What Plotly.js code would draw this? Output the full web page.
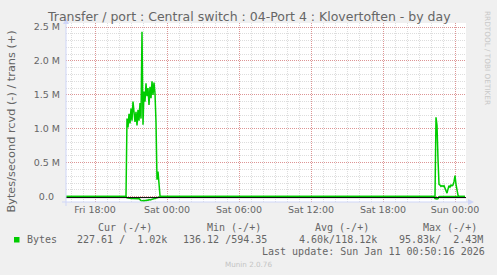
<!DOCTYPE html>
<html>
<head>
<meta charset="utf-8">
<script src="https://cdn.plot.ly/plotly-3.0.1.min.js"></script>
<style>
html,body{margin:0;padding:0;background:#F0F0F0;}
#chart{width:497px;height:275px;}
</style>
</head>
<body>
<div id="chart"></div>
<script>
// ---- data (bytes/second, 5-minute samples) ----
const times = [
  '2026-01-09 15:35','2026-01-09 17:00','2026-01-09 19:00','2026-01-09 20:35',
  '2026-01-09 20:40','2026-01-09 20:45','2026-01-09 20:50','2026-01-09 20:55',
  '2026-01-09 21:00','2026-01-09 21:05','2026-01-09 21:10','2026-01-09 21:15',
  '2026-01-09 21:20','2026-01-09 21:25','2026-01-09 21:30','2026-01-09 21:35',
  '2026-01-09 21:40','2026-01-09 21:45','2026-01-09 21:50','2026-01-09 21:55',
  '2026-01-09 22:00','2026-01-09 22:05','2026-01-09 22:10','2026-01-09 22:15',
  '2026-01-09 22:20','2026-01-09 22:25','2026-01-09 22:30','2026-01-09 22:35',
  '2026-01-09 22:40','2026-01-09 22:45','2026-01-09 22:50','2026-01-09 22:55',
  '2026-01-09 23:00','2026-01-09 23:05','2026-01-09 23:10','2026-01-09 23:15',
  '2026-01-09 23:20','2026-01-09 23:25','2026-01-09 23:30',
  '2026-01-10 03:00','2026-01-10 09:00','2026-01-10 15:00','2026-01-10 22:15',
  '2026-01-10 22:20','2026-01-10 22:25','2026-01-10 22:30','2026-01-10 22:35',
  '2026-01-10 22:40','2026-01-10 22:45','2026-01-10 22:50','2026-01-10 22:55',
  '2026-01-10 23:00','2026-01-10 23:05','2026-01-10 23:10','2026-01-10 23:15',
  '2026-01-10 23:20','2026-01-10 23:25','2026-01-10 23:30','2026-01-10 23:35',
  '2026-01-10 23:40','2026-01-10 23:45','2026-01-10 23:50','2026-01-10 23:55',
  '2026-01-11 00:00','2026-01-11 00:05','2026-01-11 00:10','2026-01-11 00:15',
  '2026-01-11 00:20','2026-01-11 00:50'
];
const transBytes = [
  950,1050,980,1000,
  1150000,1020000,1220000,1080000,
  1300000,1120000,1400000,1180000,
  1100000,1250000,1050000,1280000,
  1120000,1380000,1150000,2430000,
  1060000,1550000,1400000,1670000,
  1480000,1600000,1350000,1620000,
  1450000,1700000,1500000,1680000,
  1520000,1100000,250000,370000,
  120000,10000,1000,
  1100,950,1050,1000,
  1000,1170000,1050000,550000,
  180000,170000,150000,160000,
  150000,160000,120000,90000,
  50000,110000,160000,140000,
  170000,160000,170000,220000,
  310000,180000,100000,20000,
  1000,1020
];
const rcvdBytes = [
  200,190,210,200,
  20000,25000,28000,25000,
  30000,28000,30000,27000,
  30000,28000,30000,32000,
  30000,50000,60000,65000,
  60000,68000,55000,62000,
  50000,55000,45000,50000,
  45000,40000,45000,40000,
  35000,30000,25000,20000,
  5000,300,200,
  180,220,200,200,
  30000,35000,35000,30000,
  2000,300,250,250,
  250,250,250,250,
  250,250,250,250,
  250,250,250,250,
  250,250,250,250,
  250,228
];
const xTickVals = ['2026-01-09 18:00','2026-01-10 00:00','2026-01-10 06:00','2026-01-10 12:00','2026-01-10 18:00','2026-01-11 00:00'];
const xTickText = ['Fri 18:00','Sat 00:00','Sat 06:00','Sat 12:00','Sat 18:00','Sun 00:00'];
const yTickVals = [0,500000,1000000,1500000,2000000,2500000];
const yTickText = ['0.0\u00a0\u00a0','0.5 M','1.0 M','1.5 M','2.0 M','2.5 M'];
const seriesName = 'Bytes';
const statHeaders = ['Cur (-/+)','Min (-/+)','Avg (-/+)','Max (-/+)'];
const statValues = ['227.61 /  1.02k','136.12 /594.35','4.60k/118.12k','95.83k/  2.43M'];
const lastUpdate = 'Last update: Sun Jan 11 00:50:16 2026';
const titleText = 'Transfer / port : Central switch : 04-Port 4 : Klovertoften - by day';
const yTitle = 'Bytes/second rcvd (-) / trans (+)';

// ---- layout geometry ----
const W = 497, H = 275;
const L = 66, R = 466, T = 23, B = 202;
const px = x => (x - L) / (R - L);
const py = y => (B - y) / (B - T);
const nb = s => s.replace(/ /g, '\u00a0');
const GREEN = '#00CC00';
const FONT = '#666666';
const AXISC = '#CFD6F8';

const traces = [
  {x: times, y: rcvdBytes.map(v => -v), type: 'scatter', mode: 'lines',
   line: {color: GREEN, width: 1.5}, hoverinfo: 'skip', showlegend: false},
  {x: times, y: transBytes, type: 'scatter', mode: 'lines',
   line: {color: GREEN, width: 1.5}, hoverinfo: 'skip', showlegend: false}
];

const headerX = [98, 207, 315, 423];
const valueX = [77, 183, 299, 399];
const ann = [];
ann.push({text: titleText, x: px(248.5), y: py(17), xref: 'paper', yref: 'paper',
  xanchor: 'center', yanchor: 'middle', showarrow: false,
  font: {family: 'DejaVu Sans', size: 12.5, color: FONT}});
ann.push({text: yTitle, x: px(10.5), y: py(122), xref: 'paper', yref: 'paper',
  xanchor: 'center', yanchor: 'middle', showarrow: false, textangle: -90,
  font: {family: 'DejaVu Sans', size: 11.3, color: FONT}});
statHeaders.forEach((h, i) => ann.push({text: nb(h), x: px(headerX[i]), y: py(227.5),
  xref: 'paper', yref: 'paper', xanchor: 'left', yanchor: 'middle', showarrow: false,
  borderpad: 0, borderwidth: 0,
  font: {family: 'DejaVu Sans Mono', size: 10, color: FONT}}));
ann.push({text: seriesName, x: px(27), y: py(239.5), xref: 'paper', yref: 'paper',
  xanchor: 'left', yanchor: 'middle', showarrow: false, borderpad: 0, borderwidth: 0,
  font: {family: 'DejaVu Sans Mono', size: 10, color: FONT}});
statValues.forEach((v, i) => ann.push({text: nb(v), x: px(valueX[i]), y: py(239.5),
  xref: 'paper', yref: 'paper', xanchor: 'left', yanchor: 'middle', showarrow: false,
  borderpad: 0, borderwidth: 0,
  font: {family: 'DejaVu Sans Mono', size: 10, color: FONT}}));
ann.push({text: nb(lastUpdate), x: px(262), y: py(251.5), xref: 'paper', yref: 'paper',
  xanchor: 'left', yanchor: 'middle', showarrow: false, borderpad: 0, borderwidth: 0,
  font: {family: 'DejaVu Sans Mono', size: 10, color: FONT}});
ann.push({text: 'Munin 2.0.76', x: px(248), y: py(264), xref: 'paper', yref: 'paper',
  xanchor: 'center', yanchor: 'middle', showarrow: false,
  font: {family: 'DejaVu Sans', size: 7.2, color: '#C4C4C4'}});
ann.push({text: 'RRDTOOL / TOBI OETIKER', x: px(487), y: py(58), xref: 'paper', yref: 'paper',
  xanchor: 'center', yanchor: 'middle', showarrow: false, textangle: 90,
  font: {family: 'DejaVu Sans', size: 7.3, color: '#C8C8C8'}});

const shapes = [
  // zero rule
  {type: 'line', xref: 'paper', x0: 0, x1: 1, yref: 'y', ysizemode: 'pixel', yanchor: 0,
   y0: -1, y1: -1, line: {color: '#000000', width: 1}, layer: 'above'},
  // y axis line + arrow
  {type: 'line', xref: 'paper', yref: 'paper', x0: px(66), x1: px(66), y0: py(206), y1: py(22),
   line: {color: AXISC, width: 1}, layer: 'above'},
  {type: 'path', xref: 'paper', yref: 'paper',
   path: `M ${px(63)} ${py(24)} L ${px(66)} ${py(18)} L ${px(69)} ${py(24)} Z`,
   fillcolor: AXISC, line: {width: 0}, layer: 'above'},
  // x axis line + arrow
  {type: 'line', xref: 'paper', yref: 'paper', x0: px(62), x1: px(470), y0: py(202), y1: py(202),
   line: {color: AXISC, width: 1}, layer: 'above'},
  {type: 'path', xref: 'paper', yref: 'paper',
   path: `M ${px(468)} ${py(199)} L ${px(474)} ${py(202)} L ${px(468)} ${py(205)} Z`,
   fillcolor: AXISC, line: {width: 0}, layer: 'above'},
  // legend swatch
  {type: 'rect', xref: 'paper', yref: 'paper', x0: px(14), x1: px(19.5), y0: py(242.5), y1: py(237),
   fillcolor: GREEN, line: {width: 0}}
];

const layout = {
  width: W, height: H,
  margin: {l: L, r: W - R, t: T, b: H - B, pad: 0},
  paper_bgcolor: '#F0F0F0', plot_bgcolor: '#FFFFFF',
  showlegend: false,
  xaxis: {
    type: 'date', range: ['2026-01-09 15:35', '2026-01-11 00:55'],
    tickmode: 'array', tickvals: xTickVals, ticktext: xTickText,
    showgrid: true, gridcolor: 'rgba(220,90,90,0.55)', gridwidth: 1, griddash: '1px,1px',
    minor: {dtick: 3600000, showgrid: true, gridcolor: 'rgba(150,150,150,0.32)', griddash: '1px,1px', gridwidth: 1},
    zeroline: false, showline: false, ticks: '',
    tickfont: {family: 'DejaVu Sans', size: 9.5, color: FONT},
    fixedrange: true
  },
  yaxis: {
    range: [-80000, 2560000],
    tickmode: 'array', tickvals: yTickVals, ticktext: yTickText,
    showgrid: true, gridcolor: 'rgba(220,90,90,0.55)', gridwidth: 1, griddash: '1px,1px',
    minor: {dtick: 100000, tick0: 0, showgrid: true, gridcolor: 'rgba(150,150,150,0.32)', griddash: '1px,1px', gridwidth: 1},
    zeroline: false, showline: false, ticks: '', ticklabelstandoff: 5,
    tickfont: {family: 'DejaVu Sans', size: 9.5, color: FONT},
    fixedrange: true
  },
  annotations: ann,
  shapes: shapes
};

Plotly.newPlot('chart', traces, layout, {staticPlot: true, displayModeBar: false});
</script>
</body>
</html>
